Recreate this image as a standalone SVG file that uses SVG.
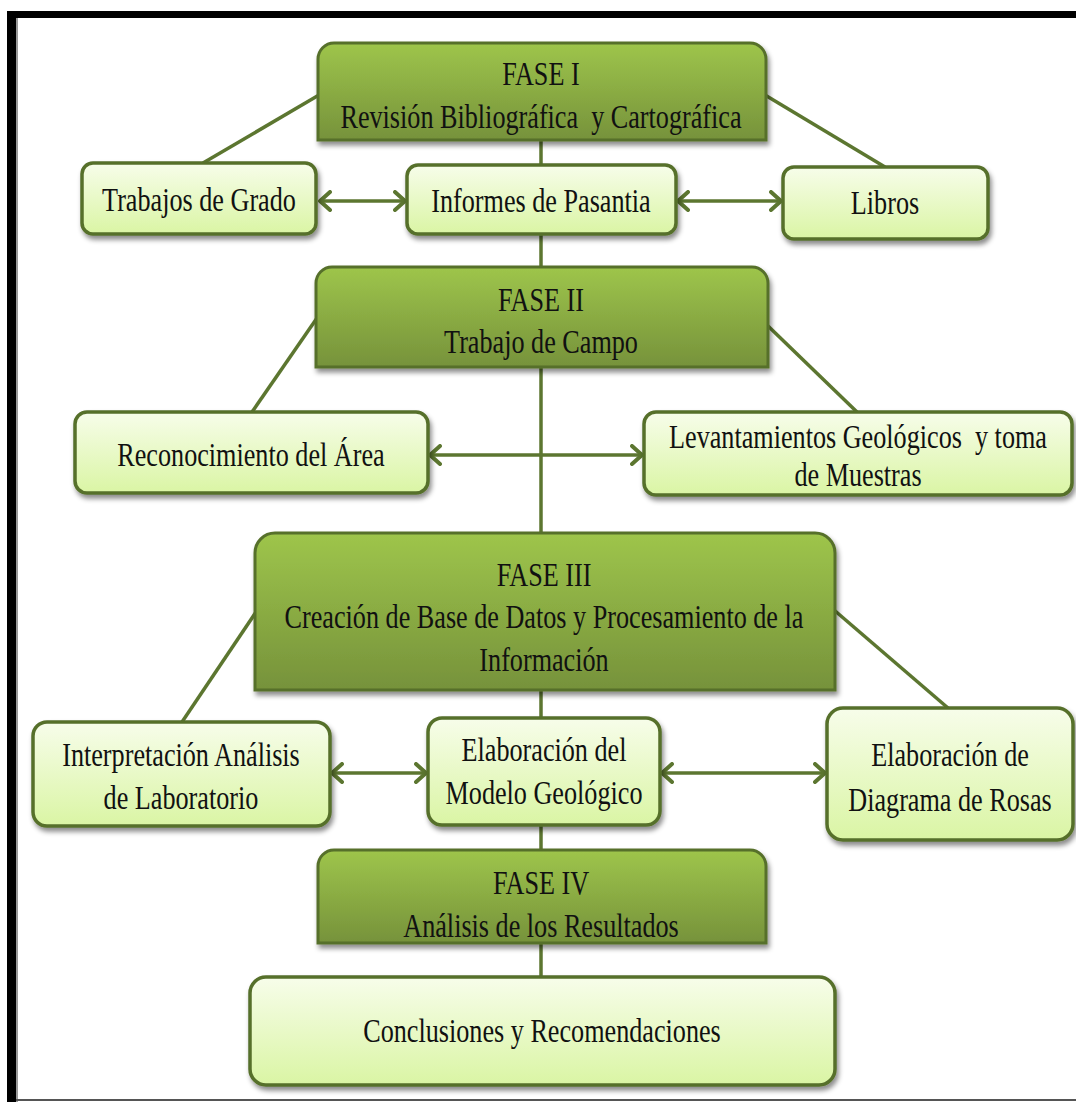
<svg xmlns="http://www.w3.org/2000/svg" width="1076" height="1102" viewBox="0 0 1076 1102">
<defs>
<linearGradient id="gDark" x1="0" y1="0" x2="0" y2="1">
<stop offset="0" stop-color="#9ec54b"/>
<stop offset="1" stop-color="#76923b"/>
</linearGradient>
<linearGradient id="gLight" x1="0" y1="0" x2="0" y2="1">
<stop offset="0" stop-color="#f7fdea"/>
<stop offset="1" stop-color="#daf5a4"/>
</linearGradient>
<filter id="sh" x="-10%" y="-10%" width="120%" height="130%">
<feDropShadow dx="2" dy="4" stdDeviation="2.5" flood-color="#000" flood-opacity="0.45"/>
</filter>
<marker id="chev" markerUnits="userSpaceOnUse" viewBox="0 0 14 22" markerWidth="14" markerHeight="22" refX="12" refY="11" orient="auto-start-reverse">
<path d="M2,2 L12,11 L2,20" fill="none" stroke="#5c7630" stroke-width="4" stroke-linecap="round" stroke-linejoin="round"/>
</marker>
</defs>
<style>
.dark{fill:url(#gDark);stroke:#566f2b;stroke-width:3;filter:url(#sh)}
.light{fill:url(#gLight);stroke:#566f2b;stroke-width:3.5;filter:url(#sh)}
.ln{stroke:#5c7630;stroke-width:3.5;fill:none}
.ar{stroke:#5c7630;stroke-width:3.5;fill:none;marker-start:url(#chev);marker-end:url(#chev)}
text{font-family:"Liberation Serif","Times New Roman",serif;font-size:34px;fill:#111;text-anchor:middle;white-space:pre}
</style>
<rect x="0" y="0" width="1076" height="1102" fill="#ffffff"/>
<g id="frame">
<rect x="7" y="11" width="1069" height="7" fill="#000"/>
<rect x="7" y="11" width="9" height="1091" fill="#000"/>
<rect x="16" y="18" width="2" height="1084" fill="#9a9a9a"/>
<rect x="16" y="1099" width="1060" height="2" fill="#555"/>
</g>
<g id="connectors">
<line class="ln" x1="541" y1="140" x2="541" y2="165"/>
<line class="ln" x1="541" y1="234" x2="541" y2="267"/>
<line class="ln" x1="541" y1="367" x2="541" y2="533"/>
<line class="ln" x1="541" y1="690" x2="541" y2="718"/>
<line class="ln" x1="541" y1="825" x2="541" y2="850"/>
<line class="ln" x1="541" y1="943" x2="541" y2="977"/>
<line class="ln" x1="319" y1="95" x2="203" y2="163"/>
<line class="ln" x1="765" y1="95" x2="885" y2="167"/>
<line class="ln" x1="317" y1="318" x2="252" y2="412"/>
<line class="ln" x1="767" y1="325" x2="857" y2="412"/>
<line class="ln" x1="256" y1="612" x2="182" y2="722"/>
<line class="ln" x1="834" y1="610" x2="948" y2="708"/>
<line class="ar" x1="320" y1="201" x2="405" y2="201"/>
<line class="ar" x1="678" y1="201" x2="781" y2="201"/>
<line class="ar" x1="430" y1="455" x2="642" y2="455"/>
<line class="ar" x1="332" y1="773" x2="426" y2="773"/>
<line class="ar" x1="662" y1="773" x2="825" y2="773"/>
</g>
<g id="fase1">
<path class="dark" d="M318,140 V59 A16,16 0 0 1 334,43 H750 A16,16 0 0 1 766,59 V140 Z"/>
<text transform="translate(541 0) scale(0.77 1)" y="85">FASE I</text>
<text transform="translate(541 0) scale(0.77 1)" y="128">Revisión Bibliográfica  y Cartográfica</text>
</g>
<g id="trabajos">
<rect class="light" x="82" y="163" width="234" height="71" rx="11"/>
<text transform="translate(199 0) scale(0.77 1)" y="211">Trabajos de Grado</text>
</g>
<g id="informes">
<rect class="light" x="407" y="165" width="269" height="69" rx="11"/>
<text transform="translate(541 0) scale(0.77 1)" y="212">Informes de Pasantia</text>
</g>
<g id="libros">
<rect class="light" x="783" y="167" width="205" height="72" rx="11"/>
<text transform="translate(885 0) scale(0.77 1)" y="214">Libros</text>
</g>
<g id="fase2">
<path class="dark" d="M316,367 V283 A16,16 0 0 1 332,267 H752 A16,16 0 0 1 768,283 V367 Z"/>
<text transform="translate(541 0) scale(0.77 1)" y="311">FASE II</text>
<text transform="translate(541 0) scale(0.77 1)" y="353">Trabajo de Campo</text>
</g>
<g id="reconocimiento">
<rect class="light" x="75" y="412" width="353" height="81" rx="12"/>
<text transform="translate(251 0) scale(0.77 1)" y="466">Reconocimiento del Área</text>
</g>
<g id="levantamientos">
<rect class="light" x="644" y="412" width="428" height="83" rx="12"/>
<text transform="translate(858 0) scale(0.77 1)" y="448">Levantamientos Geológicos  y toma</text>
<text transform="translate(858 0) scale(0.77 1)" y="486">de Muestras</text>
</g>
<g id="fase3">
<path class="dark" d="M255,690 V553 A20,20 0 0 1 275,533 H815 A20,20 0 0 1 835,553 V690 Z"/>
<text transform="translate(544 0) scale(0.77 1)" y="586">FASE III</text>
<text transform="translate(544 0) scale(0.77 1)" y="628">Creación de Base de Datos y Procesamiento de la</text>
<text transform="translate(544 0) scale(0.77 1)" y="671">Información</text>
</g>
<g id="interpretacion">
<rect class="light" x="33" y="722" width="297" height="104" rx="14"/>
<text transform="translate(181 0) scale(0.77 1)" y="766">Interpretación Análisis</text>
<text transform="translate(181 0) scale(0.77 1)" y="809">de Laboratorio</text>
</g>
<g id="modelo">
<rect class="light" x="428" y="718" width="232" height="107" rx="14"/>
<text transform="translate(544 0) scale(0.77 1)" y="761">Elaboración del</text>
<text transform="translate(544 0) scale(0.77 1)" y="804">Modelo Geológico</text>
</g>
<g id="rosas">
<rect class="light" x="827" y="708" width="246" height="132" rx="16"/>
<text transform="translate(950 0) scale(0.77 1)" y="766">Elaboración de</text>
<text transform="translate(950 0) scale(0.77 1)" y="811">Diagrama de Rosas</text>
</g>
<g id="fase4">
<path class="dark" d="M318,943 V866 A16,16 0 0 1 334,850 H750 A16,16 0 0 1 766,866 V943 Z"/>
<text transform="translate(541 0) scale(0.77 1)" y="894">FASE IV</text>
<text transform="translate(541 0) scale(0.77 1)" y="937">Análisis de los Resultados</text>
</g>
<g id="conclusiones">
<rect class="light" x="250" y="977" width="585" height="108" rx="16"/>
<text transform="translate(542 0) scale(0.77 1)" y="1042">Conclusiones y Recomendaciones</text>
</g>
</svg>
